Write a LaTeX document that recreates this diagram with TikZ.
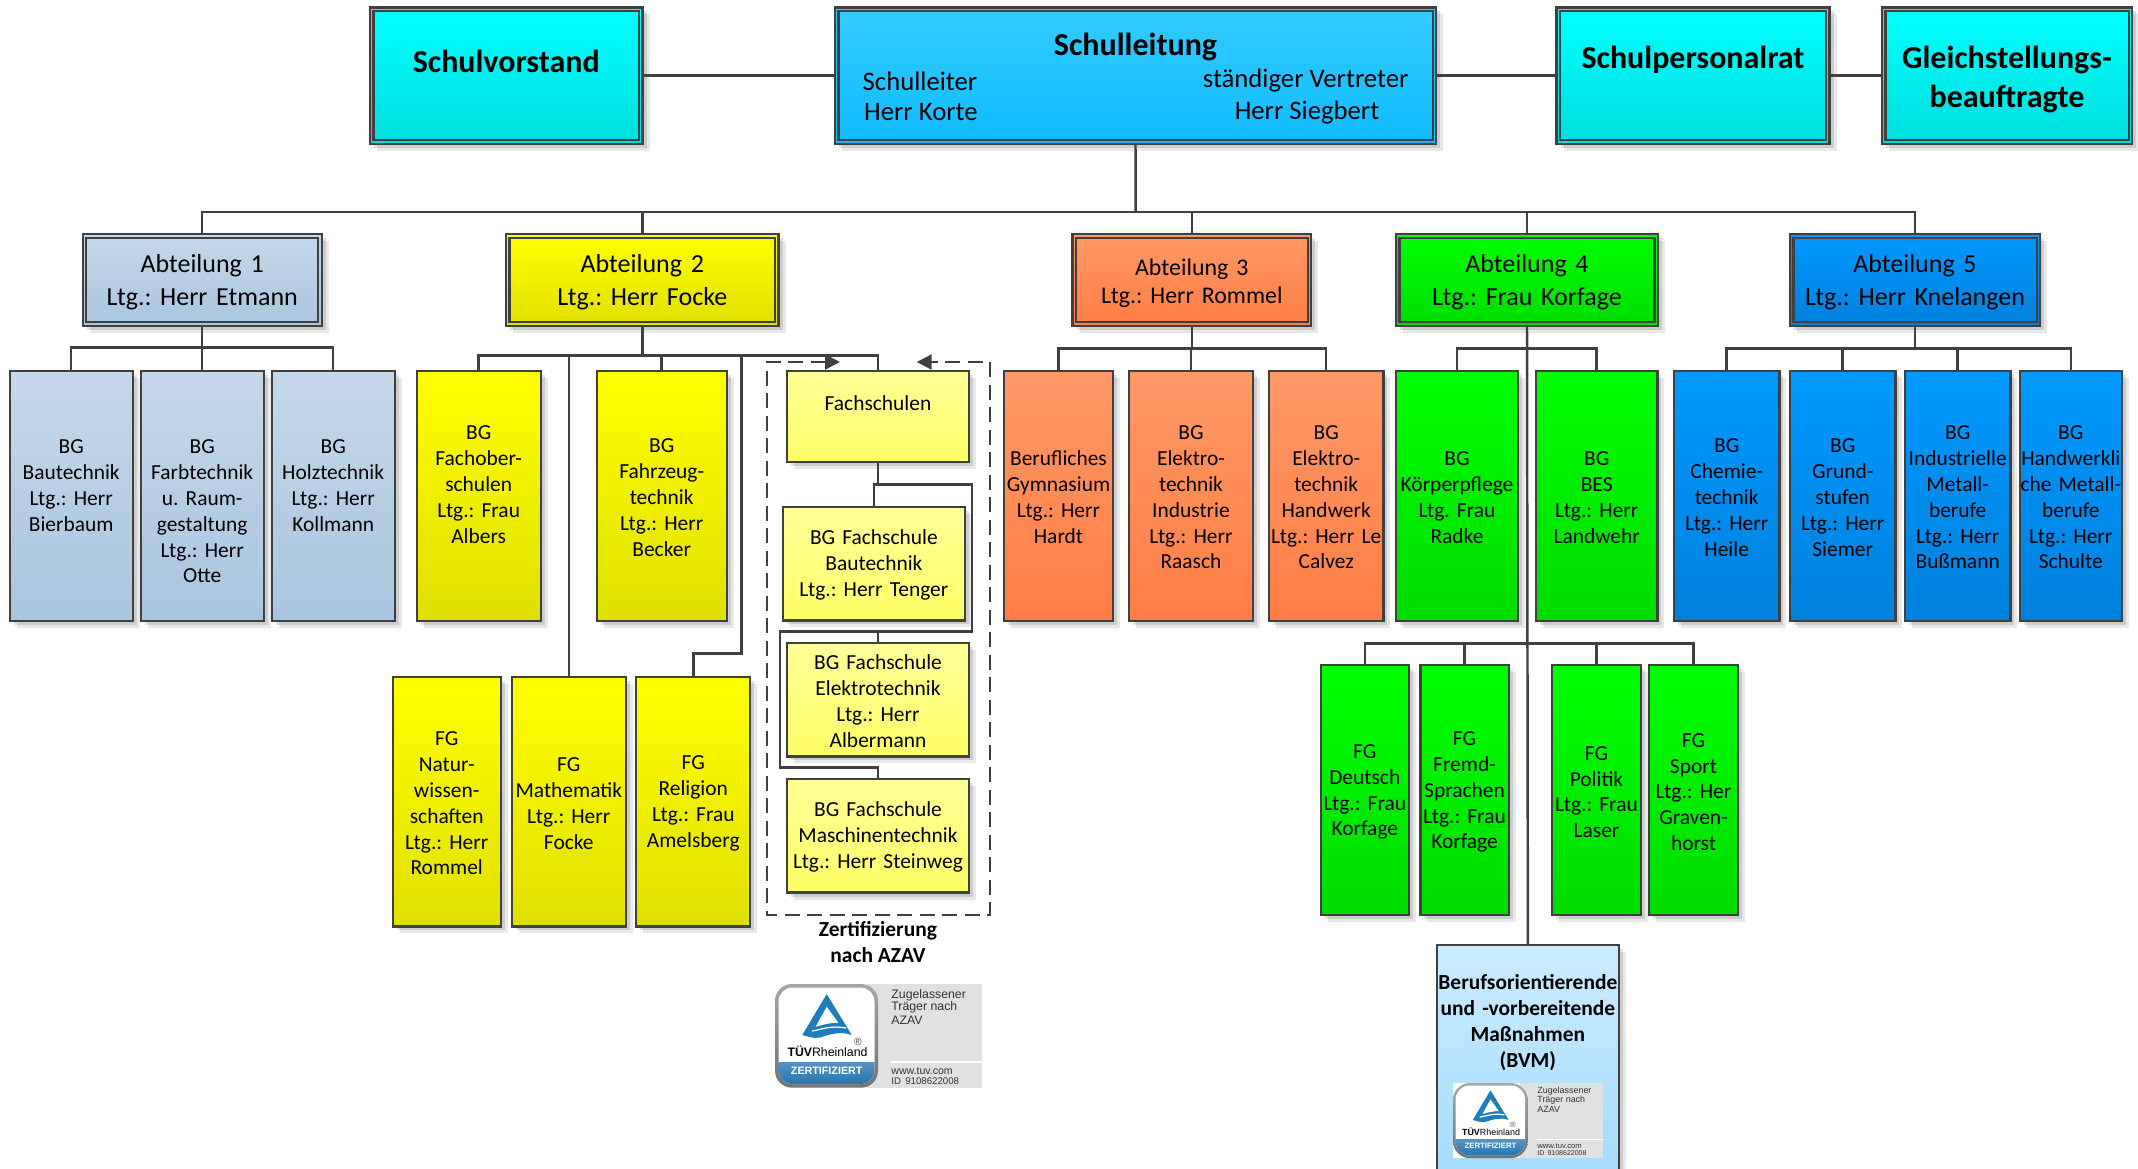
\documentclass[tikz,border=0pt]{standalone}
\usepackage{fontspec}
\setmainfont{Carlito}
\newfontfamily\tuvfont{Liberation Sans}
\usetikzlibrary{calc}
\usetikzlibrary{shadows}
\usetikzlibrary{arrows.meta}

\definecolor{linegrey}{HTML}{404040}
\definecolor{tuvgrey}{HTML}{E0E1E3}
\definecolor{tuvblue}{HTML}{1E6FAD}
\definecolor{tuvlogo}{HTML}{1F7DBB}
\definecolor{paleT}{HTML}{C5D8E9}
\definecolor{paleB}{HTML}{A9C5DE}
\definecolor{cyanB}{HTML}{00DEDE}
\definecolor{leitT}{HTML}{33CCFF}
\definecolor{leitB}{HTML}{10BBFF}
\definecolor{yellB}{HTML}{E0E000}
\definecolor{lemonT}{HTML}{FFFF99}
\definecolor{lemonB}{HTML}{FFFF66}
\definecolor{orangeT}{HTML}{FF9966}
\definecolor{orangeB}{HTML}{FF7D45}
\definecolor{greenB}{HTML}{00DC00}
\definecolor{blueT}{HTML}{0099FF}
\definecolor{blueB}{HTML}{0080DC}
\definecolor{skyT}{HTML}{CCEBFF}
\definecolor{skyB}{HTML}{A5DCFF}

\tikzset{
  softshadow/.style={drop shadow={shadow xshift=.07cm,shadow yshift=-.07cm,opacity=.09,fill=black},
    drop shadow={shadow xshift=.04cm,shadow yshift=-.04cm,opacity=.12,fill=black}},
  firstline/.style={execute at begin node={\rule{0pt}{#1cm}}},
  orgbox/.style={draw=linegrey,line width=.65pt,inner sep=0pt,align=center,softshadow,
    font=\fontsize{6.1}{7.35}\selectfont,execute at begin node={\hyphenpenalty=10000 },firstline=.175},
  boxsize/.style 2 args={minimum width=#1cm,minimum height=#2cm,text width=#1cm},
  liftby/.style={execute at end node={\par\vspace*{#1cm}}},
  headfont/.style={font=\fontsize{9.1}{11}\bfseries\selectfont,firstline=.30},
  abtfont/.style={font=\fontsize{7.4}{9.4}\selectfont,firstline=.23},
  abtsmall/.style={font=\fontsize{6.8}{8.1}\selectfont,firstline=.23},
  leitfont/.style={font=\fontsize{7.6}{9.1}\selectfont},
  azavfont/.style={font=\fontsize{6.1}{7.35}\bfseries\selectfont},
  pale/.style={top color=paleT,bottom color=paleB},
  cyanbox/.style={top color=cyan,bottom color=cyanB},
  leitbox/.style={top color=leitT,bottom color=leitB},
  yell/.style={top color=yellow,bottom color=yellB},
  lemon/.style={top color=lemonT,bottom color=lemonB},
  orangebox/.style={top color=orangeT,bottom color=orangeB},
  greenbox/.style={top color=green,bottom color=greenB},
  bluebox/.style={top color=blueT,bottom color=blueB},
  skybox/.style={top color=skyT,bottom color=skyB},
  conn/.style={draw=linegrey,line width=.7pt},
  azavframe/.style={draw=linegrey,line width=.65pt,dash pattern=on .15cm off .075cm,
    {Triangle[length=.15cm,width=.15cm]}-{Triangle[length=.15cm,width=.15cm]}},
  innerline/.style={draw=linegrey,line width=.65pt},
  tuvsmall/.style={font=\tuvfont\fontsize{3.5}{3.6}\selectfont,anchor=west,inner sep=0pt,text=black!80},
  tuvbadge/.pic={
    \fill[white] (0,0) rectangle (2.067,1.037);
    \fill[tuvgrey] (.92,0) rectangle (2.067,1.037);
    \fill[white] (1.157,.77) rectangle (2.067,.785);
    \path[rounded corners=.17cm,top color=black!35,bottom color=black!55] (0,0) rectangle (1.03,1.037);
    \begin{scope}
      \clip[rounded corners=.14cm] (.035,.035) rectangle (.995,1.0);
      \fill[white] (0,0) rectangle (1.03,1.037);
      \path[top color=tuvblue!75,bottom color=tuvblue] (0,.78) rectangle (1.03,1.037);
    \end{scope}
    \fill[tuvlogo] (.517,.10) -- (.767,.51) .. controls (.66,.47) and (.55,.50) .. (.45,.535)
      .. controls (.38,.55) and (.32,.52) .. (.273,.51) -- cycle;
    \fill[white] (.517,.227) -- (.633,.387) .. controls (.58,.385) and (.50,.40) .. (.407,.427) -- cycle;
    \draw[white,line width=.35pt] (.37,.47) .. controls (.45,.46) and (.55,.41) .. (.71,.44);
    \node[inner sep=0pt,text=black,font=\tuvfont\fontsize{3.5}{4}\selectfont] (-brand) at (.525,.677) {\textbf{TÜV}Rheinland};
    \node[inner sep=0pt,text=black!70,font=\tuvfont\fontsize{3}{3}\selectfont] (-mark) at (.827,.583) {®};
    \node[inner sep=0pt,text=white,font=\tuvfont\bfseries\fontsize{3.05}{3.2}\selectfont] (-stamp) at (.517,.867) {ZERTIFIZIERT};
    \node[tuvsmall] (-first) at (1.157,.11) {Zugelassener};
    \node[tuvsmall] (-second) at (1.157,.237) {Träger nach};
    \node[tuvsmall] (-third) at (1.157,.36) {AZAV};
    \node[tuvsmall,font=\tuvfont\fontsize{3}{3.2}\selectfont] (-web) at (1.157,.867) {www.tuv.com};
    \node[tuvsmall,font=\tuvfont\fontsize{2.75}{3}\selectfont] (-id) at (1.157,.967) {ID\ \,9108622008};
  }
}

\begin{document}
\frenchspacing
\begin{tikzpicture}[x=1cm,y=-1cm]
\useasboundingbox (0,0) rectangle (21.38,11.68);

\node[orgbox,headfont,boxsize={2.725}{1.367},cyanbox,liftby=.37] (vorstand) at (5.0625,.757) {Schulvorstand};
\node[orgbox,headfont,boxsize={6.01}{1.367},leitbox,liftby=.66] (leitung) at (11.355,.757) {Schulleitung};
\node[orgbox,headfont,boxsize={2.73}{1.367},cyanbox,liftby=.39] (personalrat) at (16.93,.757) {Schulpersonalrat};
\node[orgbox,headfont,boxsize={2.50}{1.367},cyanbox] (gleichstellung) at (20.07,.757) {Gleichstellungs-\\beauftragte};

\node[leitfont,anchor=west,inner sep=0pt] (leiterrole) at (8.62,.81) {Schulleiter};
\node[leitfont,anchor=west,inner sep=0pt] (leitername) at (8.635,1.125) {Herr Korte};
\node[leitfont,inner sep=0pt] (vertreterrole) at (13.056,.81) {ständiger Vertreter};
\node[leitfont,inner sep=0pt] (vertretername) at (13.07,1.125) {Herr Siegbert};

\node[orgbox,abtfont,boxsize={2.39}{.92},pale] (abt1) at (2.022,2.80) {Abteilung 1\\Ltg.: Herr Etmann};
\node[orgbox,abtfont,boxsize={2.726}{.92},yell] (abt2) at (6.423,2.80) {Abteilung 2\\Ltg.: Herr Focke};
\node[orgbox,abtsmall,boxsize={2.384}{.92},orangebox] (abt3) at (11.918,2.80) {Abteilung 3\\Ltg.: Herr Rommel};
\node[orgbox,abtfont,boxsize={2.615}{.92},greenbox] (abt4) at (15.27,2.80) {Abteilung 4\\Ltg.: Frau Korfage};
\node[orgbox,abtfont,boxsize={2.50}{.92},bluebox] (abt5) at (19.15,2.80) {Abteilung 5\\Ltg.: Herr Knelangen};

\node[orgbox,boxsize={1.23}{2.50},pale,liftby=.24] (bautechnik) at (.712,4.957) {BG\\Bautechnik\\Ltg.: Herr\\Bierbaum};
\node[orgbox,boxsize={1.23}{2.50},pale] (farbtechnik) at (2.022,4.957) {\mbox{}\\[.02cm]BG\\Farbtechnik\\u. Raum-\\gestaltung\\Ltg.: Herr\\Otte};
\node[orgbox,boxsize={1.23}{2.50},pale,liftby=.24] (holztechnik) at (3.332,4.957) {BG\\Holztechnik\\Ltg.: Herr\\Kollmann};

\node[orgbox,boxsize={1.24}{2.50},yell,liftby=.26] (fachober) at (4.787,4.957) {BG\\Fachober-\\schulen\\Ltg.: Frau\\Albers};
\node[orgbox,boxsize={1.30}{2.50},yell] (fahrzeug) at (6.617,4.957) {BG\\Fahrzeug-\\technik\\Ltg.: Herr\\Becker};
\node[orgbox,boxsize={1.08}{2.495},yell] (natur) at (4.467,8.017) {FG\\Natur-\\wissen-\\schaften\\Ltg.: Herr\\Rommel};
\node[orgbox,boxsize={1.137}{2.495},yell] (mathe) at (5.688,8.017) {FG\\Mathematik\\Ltg.: Herr\\Focke};
\node[orgbox,boxsize={1.14}{2.495},yell] (religion) at (6.933,8.017) {FG\\Religion\\Ltg.: Frau\\Amelsberg};

\node[orgbox,boxsize={1.82}{.911},lemon,liftby=.28] (fachschulen) at (8.78,4.162) {Fachschulen};
\node[orgbox,boxsize={1.817}{1.137},lemon] (fsbau) at (8.739,5.636) {BG Fachschule\\Bautechnik\\Ltg.: Herr Tenger};
\node[orgbox,boxsize={1.82}{1.134},lemon] (fselektro) at (8.78,6.997) {BG Fachschule\\Elektrotechnik\\Ltg.: Herr\\Albermann};
\node[orgbox,boxsize={1.82}{1.136},lemon] (fsmaschinen) at (8.78,8.358) {BG Fachschule\\Maschinentechnik\\Ltg.: Herr Steinweg};

\node[orgbox,boxsize={1.09}{2.50},orangebox] (gymnasium) at (10.585,4.957) {Berufliches\\Gymnasium\\Ltg.: Herr\\Hardt};
\node[orgbox,boxsize={1.234}{2.50},orangebox] (industrie) at (11.91,4.957) {BG\\Elektro-\\technik\\Industrie\\Ltg.: Herr\\Raasch};
\node[orgbox,boxsize={1.143}{2.50},orangebox] (handwerk) at (13.262,4.957) {BG\\Elektro-\\technik\\Handwerk\\Ltg.: Herr Le\\Calvez};

\node[orgbox,boxsize={1.214}{2.50},greenbox] (koerper) at (14.57,4.957) {BG\\Körperpflege\\Ltg. Frau\\Radke};
\node[orgbox,boxsize={1.213}{2.50},greenbox] (bes) at (15.967,4.957) {BG\\BES\\Ltg.: Herr\\Landwehr};
\node[orgbox,boxsize={.883}{2.50},greenbox] (deutsch) at (13.648,7.903) {FG\\Deutsch\\Ltg.: Frau\\Korfage};
\node[orgbox,boxsize={.883}{2.50},greenbox] (fremd) at (14.645,7.903) {FG\\Fremd-\\Sprachen\\Ltg.: Frau\\Korfage};
\node[orgbox,boxsize={.884}{2.50},greenbox] (politik) at (15.965,7.903) {FG\\Politik\\Ltg.: Frau\\Laser};
\node[orgbox,boxsize={.884}{2.50},greenbox] (sport) at (16.935,7.903) {FG\\Sport\\Ltg.: Her\\Graven-\\horst};

\node[orgbox,boxsize={1.053}{2.50},bluebox] (chemie) at (17.267,4.957) {BG\\Chemie-\\technik\\Ltg.: Herr\\Heile};
\node[orgbox,boxsize={1.053}{2.50},bluebox] (grund) at (18.427,4.957) {BG\\Grund-\\stufen\\Ltg.: Herr\\Siemer};
\node[orgbox,boxsize={1.053}{2.50},bluebox] (metall) at (19.577,4.957) {BG\\Industrielle\\Metall-\\berufe\\Ltg.: Herr\\Bußmann};
\node[orgbox,boxsize={1.017}{2.50},bluebox] (hwmetall) at (20.708,4.957) {BG\\Handwerkli\\che Metall-\\berufe\\Ltg.: Herr\\Schulte};

\node[orgbox,azavfont,boxsize={1.823}{2.27},skybox,liftby=.74] (bvm) at (15.279,10.585) {Berufsorientierende\\und -vorbereitende\\Maßnahmen\\(BVM)};

\foreach \n in {vorstand,leitung,personalrat,gleichstellung}
  \draw[innerline] ($(\n.south west)+(.045cm,.05cm)$) rectangle ($(\n.north east)+(-.045cm,-.05cm)$);
\foreach \n in {abt1,abt2,abt3,abt4,abt5}
  \draw[innerline] ($(\n.south west)+(.045cm,.05cm)$) rectangle ($(\n.north east)+(-.045cm,-.05cm)$);

\draw[conn] (vorstand.east) -- (leitung.west);
\draw[conn] (leitung.east) -- (personalrat.west);
\draw[conn] (personalrat.east) -- (gleichstellung.west);

\coordinate (topbus) at (11.357,2.12);
\draw[conn] (leitung.south) -- (topbus);
\draw[conn] (topbus) -| (abt1.north);
\draw[conn] (topbus) -| (abt2.north);
\draw[conn] (topbus) -| (abt3.north);
\draw[conn] (topbus) -| (abt4.north);
\draw[conn] (topbus) -| (abt5.north);

\coordinate (bus1) at (2.022,3.477);
\draw[conn] (abt1.south) -- (farbtechnik.north);
\draw[conn] (bus1) -| (bautechnik.north);
\draw[conn] (bus1) -| (holztechnik.north);

\coordinate (bus2) at (6.423,3.557);
\coordinate (bus2r) at (7.417,3.557);
\coordinate (relknick) at (7.417,6.537);
\draw[conn] (abt2.south) -- (bus2);
\draw[conn] (bus2) -| (fachober.north);
\draw[conn] (bus2) -| (mathe.north);
\draw[conn] (bus2) -| (fahrzeug.north);
\draw[conn] (bus2) -| (fachschulen.north);
\draw[conn] (bus2r) -- (relknick) -| (religion.north);

\coordinate (fsjoin) at (8.78,4.847);
\coordinate (fsright) at (9.72,4.847);
\coordinate (fsmid) at (9.72,6.316);
\coordinate (fsleft) at (7.80,6.316);
\coordinate (fslow) at (7.80,7.675);
\draw[conn] (fachschulen.south) -- (fsjoin) -| (fsbau.north);
\draw[conn] (fsjoin) -- (fsright) -- (fsmid) -- (fsleft) -- (fslow) -| (fsmaschinen.north);
\draw[conn] (fsmid) -| (fselektro.north);

\coordinate (azavtipl) at (8.40,3.62);
\coordinate (azavnw) at (7.667,3.62);
\coordinate (azavsw) at (7.667,9.15);
\coordinate (azavse) at (9.897,9.15);
\coordinate (azavne) at (9.897,3.62);
\coordinate (azavtipr) at (9.167,3.62);
\draw[azavframe] (azavtipl) -- (azavnw) -- (azavsw) -- (azavse) -- (azavne) -- (azavtipr);

\coordinate (bus3) at (11.918,3.483);
\draw[conn] (abt3.south) -- (bus3);
\draw[conn] (bus3) -| (gymnasium.north);
\draw[conn] (bus3) -| (industrie.north);
\draw[conn] (bus3) -| (handwerk.north);

\coordinate (bus4) at (15.27,3.483);
\coordinate (bus4b) at (15.27,6.433);
\draw[conn] (abt4.south) -- (bvm.north);
\draw[conn] (bus4) -| (koerper.north);
\draw[conn] (bus4) -| (bes.north);
\draw[conn] (bus4b) -| (deutsch.north);
\draw[conn] (bus4b) -| (fremd.north);
\draw[conn] (bus4b) -| (politik.north);
\draw[conn] (bus4b) -| (sport.north);

\coordinate (bus5) at (19.15,3.483);
\draw[conn] (abt5.south) -- (bus5);
\draw[conn] (bus5) -| (chemie.north);
\draw[conn] (bus5) -| (grund.north);
\draw[conn] (bus5) -| (metall.north);
\draw[conn] (bus5) -| (hwmetall.north);

\node[azavfont,align=center,inner sep=0pt] (azavlabel) at (8.78,9.42) {Zertifizierung\\nach AZAV};
\pic (tuvleft) at (7.75,9.84) {tuvbadge};
\pic[scale=.725,transform shape] (tuvright) at (14.53,10.83) {tuvbadge};
\end{tikzpicture}
\end{document}
